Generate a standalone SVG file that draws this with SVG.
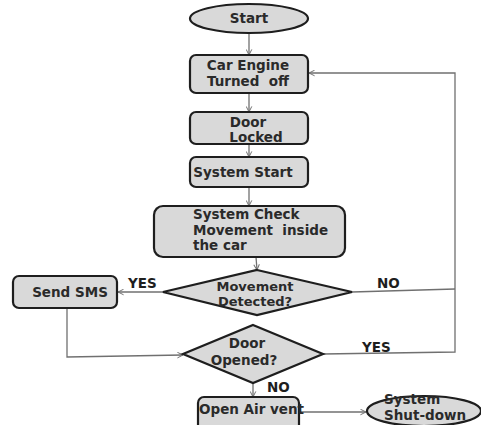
<svg xmlns="http://www.w3.org/2000/svg" width="481" height="425" viewBox="0 0 481 425">
<defs>
<marker id="arr" viewBox="0 0 10 10" refX="9" refY="5" markerWidth="7" markerHeight="7" orient="auto" markerUnits="userSpaceOnUse">
<path d="M1,1 L9,5 L1,9" fill="none" stroke="#707070" stroke-width="1.4"/>
</marker>
<style>
.n{fill:#d9d9d9;stroke:#1e1e1e;stroke-width:2.2}
.t{font-family:"DejaVu Sans",Verdana,sans-serif;font-weight:bold;font-size:13.5px;fill:#2a2a2a}
.s{font-size:13px}
.c{fill:none;stroke:#707070;stroke-width:1.3}
.l{font-family:"DejaVu Sans",Verdana,sans-serif;font-weight:bold;font-size:13.5px;fill:#1e1e1e}
</style>
</defs>
<rect width="481" height="425" fill="#ffffff"/>
<g id="connectors">
<line class="c" x1="249" y1="33" x2="249" y2="55" marker-end="url(#arr)"/>
<line class="c" x1="249" y1="93" x2="249" y2="112" marker-end="url(#arr)"/>
<line class="c" x1="249" y1="144" x2="249" y2="157" marker-end="url(#arr)"/>
<line class="c" x1="249" y1="187" x2="249" y2="206" marker-end="url(#arr)"/>
<line class="c" x1="256" y1="257" x2="257" y2="270" marker-end="url(#arr)"/>
<line class="c" x1="163" y1="292" x2="118" y2="292" marker-end="url(#arr)"/>
<polyline class="c" points="352,292 455,289"/>
<polyline class="c" points="323,354 455,352 455,73 309,73" marker-end="url(#arr)"/>
<polyline class="c" points="67,308 67,357 183,355" marker-end="url(#arr)"/>
<line class="c" x1="253" y1="383" x2="253" y2="397" marker-end="url(#arr)"/>
<line class="c" x1="299" y1="412" x2="366" y2="412" marker-end="url(#arr)"/>
<text class="l" x="128" y="288">YES</text>
<text class="l" x="377" y="288">NO</text>
<text class="l" x="362" y="352">YES</text>
<text class="l" x="267" y="392">NO</text>
</g>
<g id="start">
<ellipse class="n" cx="249" cy="18.5" rx="59" ry="14.5"/>
<text class="t" x="249" y="23" text-anchor="middle">Start</text>
</g>
<g id="engine">
<rect class="n" x="190" y="55" width="118" height="38" rx="6"/>
<text class="t" x="248" y="70" text-anchor="middle">Car Engine</text>
<text class="t" x="248" y="86" text-anchor="middle" xml:space="preserve">Turned  off</text>
</g>
<g id="door-locked">
<rect class="n" x="190" y="112" width="118" height="32" rx="6"/>
<text class="t" x="248" y="127" text-anchor="middle">Door</text>
<text class="t" x="256" y="142" text-anchor="middle">Locked</text>
</g>
<g id="system-start">
<rect class="n" x="190" y="157" width="118" height="30" rx="6"/>
<text class="t" x="243" y="177" text-anchor="middle">System Start</text>
</g>
<g id="system-check">
<rect class="n" x="154" y="206" width="191" height="51" rx="9"/>
<text class="t" x="193" y="219">System Check</text>
<text class="t" x="193" y="235" xml:space="preserve">Movement  inside</text>
<text class="t" x="193" y="250">the car</text>
</g>
<g id="movement">
<polygon class="n" points="257,270 352,292 257,315 163,292"/>
<text class="t s" x="255" y="291" text-anchor="middle">Movement</text>
<text class="t s" x="255" y="306" text-anchor="middle">Detected?</text>
</g>
<g id="send-sms">
<rect class="n" x="13" y="276" width="104" height="32" rx="6"/>
<text class="t" x="70" y="297" text-anchor="middle">Send SMS</text>
</g>
<g id="door-opened">
<polygon class="n" points="253,325 323,354 253,383 183,354"/>
<text class="t" x="247" y="348" text-anchor="middle">Door</text>
<text class="t" x="244" y="365" text-anchor="middle">Opened?</text>
</g>
<g id="open-air">
<rect class="n" x="198" y="397" width="101" height="40" rx="6"/>
<text class="t" x="199" y="414" xml:space="preserve">Open Air vent</text>
</g>
<g id="shutdown">
<ellipse class="n" cx="424" cy="411" rx="57" ry="15"/>
<text class="t" x="384" y="404">System</text>
<text class="t" x="384" y="420">Shut-down</text>
</g>
</svg>
